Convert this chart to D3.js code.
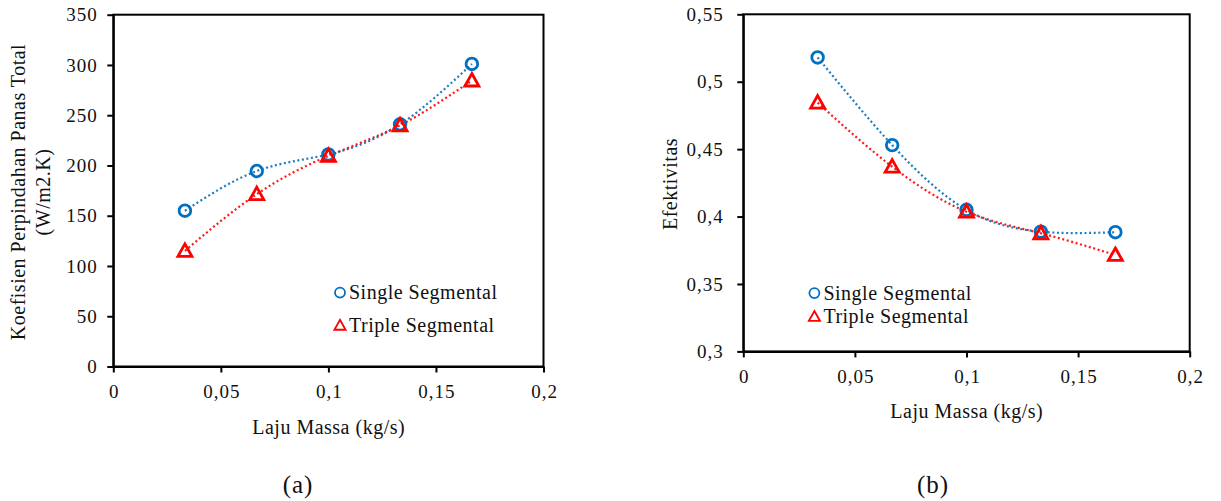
<!DOCTYPE html>
<html>
<head>
<meta charset="utf-8">
<script src="https://cdn.jsdelivr.net/npm/d3@7"></script>
<style>
  html, body { margin: 0; padding: 0; background: #fff; }
  svg { display: block; }
  text { font-family: "Liberation Serif", "Times New Roman", serif; fill: #111; }
</style>
</head>
<body>
<svg id="chart" width="1221" height="501"></svg>
<script>
// ---- Data ----
const massFlow = [0.0333, 0.0667, 0.1, 0.1333, 0.1667];
const uSingle = [155, 194.5, 211, 241, 301];
const uTriple = [115, 171.5, 209.5, 240, 284.5];
const effSingle = [0.518, 0.453, 0.405, 0.3888, 0.3884];
const effTriple = [0.4845, 0.437, 0.4036, 0.3876, 0.3715];

const xTicks = [0, 0.05, 0.1, 0.15, 0.2];
const xTickLabels = ["0", "0,05", "0,1", "0,15", "0,2"];
const uTicks = [0, 50, 100, 150, 200, 250, 300, 350];
const uTickLabels = ["0", "50", "100", "150", "200", "250", "300", "350"];
const effTicks = [0.3, 0.35, 0.4, 0.45, 0.5, 0.55];
const effTickLabels = ["0,3", "0,35", "0,4", "0,45", "0,5", "0,55"];

const seriesNames = ["Single Segmental", "Triple Segmental"];
const xTitle = "Laju Massa (kg/s)";
const yTitleA = ["Koefisien Perpindahan Panas Total", "(W/m2.K)"];
const yTitleB = "Efektivitas";
const captions = ["(a)", "(b)"];

// ---- Style ----
const BLUE = "#0070C0";
const RED = "#FF0000";
const svg = d3.select("#chart");
svg.append("rect").attr("width", 1221).attr("height", 501).attr("fill", "#fff");

function trianglePath(s) {
  return `M0,${-s} L${s},${s * 0.78} L${-s},${s * 0.78} Z`;
}

function drawPanel(cfg) {
  const g = svg.append("g");
  const x = d3.scaleLinear().domain([0, 0.2]).range([cfg.left, cfg.right]);
  const y = d3.scaleLinear().domain(cfg.yDomain).range([cfg.bottom, cfg.top]);

  // frame
  g.append("rect")
    .attr("x", cfg.left).attr("y", cfg.top)
    .attr("width", cfg.right - cfg.left).attr("height", cfg.bottom - cfg.top)
    .attr("fill", "none").attr("stroke", "#000").attr("stroke-width", 2);

  // y axis
  const yAxis = d3.axisLeft(y).tickValues(cfg.yTicks)
    .tickFormat((d, i) => cfg.yTickLabels[i])
    .tickSize(6).tickSizeOuter(0).tickPadding(cfg.yPad);
  const ya = g.append("g").attr("transform", `translate(${cfg.left},0)`).call(yAxis);
  ya.select(".domain").attr("stroke", "#000").attr("stroke-width", 2);
  ya.selectAll(".tick line").attr("stroke", "#000").attr("stroke-width", 2);
  ya.selectAll(".tick text")
    .attr("font-size", 19).attr("letter-spacing", 1);

  // x axis
  const xAxis = d3.axisBottom(x).tickValues(xTicks)
    .tickFormat((d, i) => xTickLabels[i])
    .tickSize(6).tickSizeOuter(0).tickPadding(12.2);
  const xa = g.append("g").attr("transform", `translate(0,${cfg.bottom})`).call(xAxis);
  xa.select(".domain").attr("stroke", "#000").attr("stroke-width", 2);
  xa.selectAll(".tick line").attr("stroke", "#000").attr("stroke-width", 2);
  xa.selectAll(".tick text")
    .attr("font-size", 19).attr("letter-spacing", 1).attr("dx", 0.5);

  // x title
  g.append("text")
    .attr("x", (cfg.left + cfg.right) / 2 + 0.3).attr("y", cfg.xTitleY)
    .attr("text-anchor", "middle").attr("font-size", 20).attr("letter-spacing", 0.5)
    .text(xTitle);

  // y title
  cfg.yTitle.forEach((t, i) => {
    g.append("text")
      .attr("transform", `translate(${cfg.yTitleX[i]},${cfg.yTitleCY}) rotate(-90)`)
      .attr("text-anchor", "middle").attr("font-size", 20).attr("letter-spacing", 0.5)
      .text(t);
  });

  // series lines
  const line = d3.line().x(d => x(d[0])).y(d => y(d[1])).curve(d3.curveNatural);
  const series = [
    { vals: cfg.s1, color: BLUE, shape: "circle" },
    { vals: cfg.s2, color: RED, shape: "triangle" }
  ];
  series.forEach(s => {
    const pts = massFlow.map((m, i) => [m, s.vals[i]]);
    g.append("path").datum(pts).attr("d", line)
      .attr("fill", "none").attr("stroke", s.color).attr("stroke-width", 2.2)
      .attr("stroke-dasharray", "2,2.6").attr("opacity", 0.9);
  });
  series.forEach(s => {
    const pts = massFlow.map((m, i) => [m, s.vals[i]]);
    if (s.shape === "circle") {
      g.selectAll(null).data(pts).enter().append("circle")
        .attr("cx", d => x(d[0])).attr("cy", d => y(d[1])).attr("r", 5.8)
        .attr("fill", "none").attr("stroke", s.color).attr("stroke-width", 2.8);
    } else {
      g.selectAll(null).data(pts).enter().append("path")
        .attr("d", trianglePath(7))
        .attr("transform", d => `translate(${x(d[0])},${y(d[1])})`)
        .attr("fill", "none").attr("stroke", s.color).attr("stroke-width", 2.8)
        .attr("stroke-linejoin", "miter");
    }
  });

  // legend
  const lg = g.append("g");
  lg.append("circle").attr("cx", cfg.legX).attr("cy", cfg.legY[0]).attr("r", 5)
    .attr("fill", "none").attr("stroke", BLUE).attr("stroke-width", 1.8);
  lg.append("path").attr("d", trianglePath(5.6))
    .attr("transform", `translate(${cfg.legX},${cfg.legY[1]})`)
    .attr("fill", "none").attr("stroke", RED).attr("stroke-width", 1.8);
  seriesNames.forEach((n, i) => {
    lg.append("text").attr("x", cfg.legX + 9).attr("y", cfg.legY[i] + 6.5)
      .attr("font-size", 20).attr("letter-spacing", 0.5).text(n);
  });

  // caption
  g.append("text").attr("x", cfg.capX).attr("y", 493)
    .attr("text-anchor", "middle").attr("font-size", 25).attr("letter-spacing", 1)
    .text(cfg.caption);
}

drawPanel({
  left: 113.3, right: 543.5, top: 14.7, bottom: 366.5,
  yDomain: [0, 350], yTicks: uTicks, yTickLabels: uTickLabels, yPad: 9.5,
  s1: uSingle, s2: uTriple,
  xTitleY: 434, yTitle: yTitleA, yTitleX: [25, 50], yTitleCY: 192,
  legX: 340, legY: [292.6, 325.4],
  capX: 298, caption: captions[0]
});

drawPanel({
  left: 743.3, right: 1189.7, top: 14.3, bottom: 351.4,
  yDomain: [0.3, 0.55], yTicks: effTicks, yTickLabels: effTickLabels, yPad: 13.5,
  s1: effSingle, s2: effTriple,
  xTitleY: 418, yTitle: [yTitleB], yTitleX: [677], yTitleCY: 184,
  legX: 814.4, legY: [293.1, 316.6],
  capX: 933, caption: captions[1]
});
</script>
</body>
</html>
